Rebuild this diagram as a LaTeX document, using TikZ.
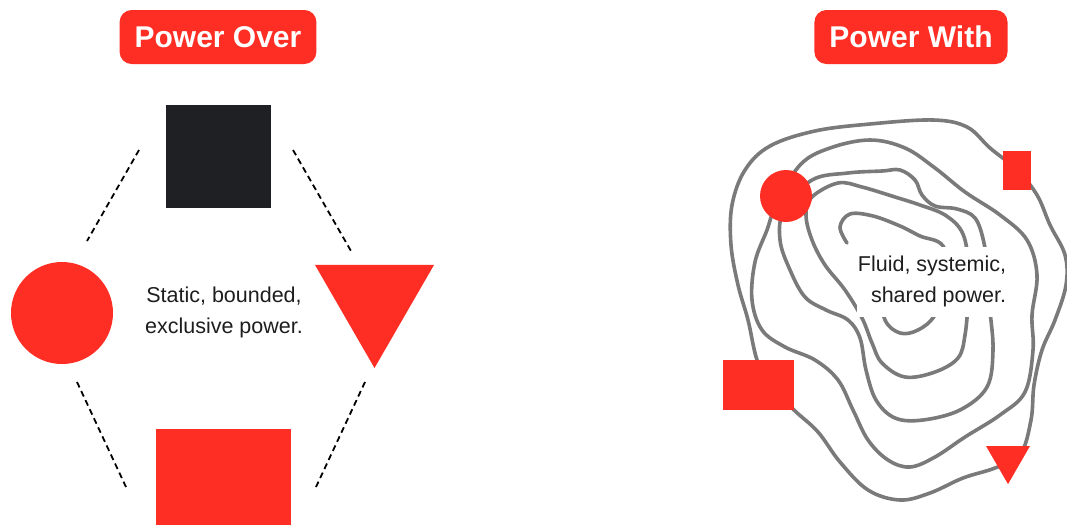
\documentclass[tikz,border=0pt]{standalone}
\usepackage{fontspec}
\setmainfont{Liberation Sans}
\usepackage{tikz}
\usetikzlibrary{shapes.geometric}

\definecolor{powred}{RGB}{255,46,36}
\definecolor{inkblack}{RGB}{31,32,35}
\definecolor{contourgray}{RGB}{122,122,122}
\definecolor{captiontext}{RGB}{30,30,30}

\begin{document}
\begin{tikzpicture}[x=1pt, y=-1pt,
  badge/.style={rectangle, fill=powred, rounded corners=12pt, minimum height=54pt,
                inner xsep=15pt, text=white, font=\fontsize{30}{36}\selectfont\bfseries},
  redbox/.style={rectangle, fill=powred, inner sep=0pt},
  reddot/.style={circle, fill=powred, inner sep=0pt},
  redtri/.style={regular polygon, regular polygon sides=3, shape border rotate=180,
                 fill=powred, inner sep=0pt},
  caption/.style={font=\fontsize{21.5}{31}\selectfont, text=captiontext, inner sep=0pt},
  link/.style={line width=1.8pt, dash pattern=on 6pt off 4pt},
  contour/.style={draw=contourgray, line width=3.6pt, line cap=round}
]
\useasboundingbox[fill=white] (0,0) rectangle (1067,525);

%% ---- POWER OVER (left) ----
\node[badge] at (218,37) (over) {Power Over};

\node[rectangle, fill=inkblack, inner sep=0pt, minimum width=105pt, minimum height=103pt]
      at (218.5,156.5) (top) {};
\node[reddot, minimum size=102pt] at (62,313) (left) {};
\node[redtri, minimum size=137.4pt] at (374.5,299.3) (right) {};
\node[redbox, minimum width=135pt, minimum height=96pt] at (223.5,477) (bottom) {};

\node[caption, align=center] at (224,312.5) (static) {Static, bounded,\\exclusive power.};

\coordinate (tl1) at (139,150);  \coordinate (tl2) at (87,241);
\coordinate (tr1) at (293,150);  \coordinate (tr2) at (351,251);
\coordinate (bl1) at (77,382);   \coordinate (bl2) at (126,487);
\coordinate (br1) at (365,382);  \coordinate (br2) at (316,487);
\draw[link] (tl1) -- (tl2);
\draw[link] (tr1) -- (tr2);
\draw[link] (bl1) -- (bl2);
\draw[link] (br1) -- (br2);

%% ---- POWER WITH (right) ----
\node[badge] at (911,37) (with) {Power With};

% contour lines
\draw[contour] plot[smooth cycle, tension=0.6] coordinates {
  (757,360) (748,320) (738,285) (731,245) (732,205) (745,170) (770,146) (815,131)
  (870,124) (933,120) (967,127) (990,148) (1017,170) (1037,195) (1050,225) (1065,255)
  (1066,285) (1055,320) (1042,350) (1034,385) (1031,420) (1020,455) (995,468) (963,478)
  (930,493) (900,500) (868,490) (840,462) (818,432) (794,410) (770,385)};
\draw[contour] plot[smooth cycle, tension=0.6] coordinates {
  (800,165) (830,148) (870,140) (905,148) (935,168) (965,192) (1000,215) (1027,240)
  (1037,275) (1032,315) (1033,350) (1025,392) (1000,415) (965,437) (935,457) (910,467)
  (888,460) (868,440) (853,410) (838,380) (815,360) (785,347) (762,330) (752,300)
  (755,262) (767,230) (776,205)};
\draw[contour] plot[smooth cycle, tension=0.6] coordinates {
  (812,180) (848,173) (882,171) (900,170) (915,180) (922,195) (935,206) (957,209)
  (975,218) (984,243) (988,275) (990,310) (993,350) (987,387) (960,410) (923,420)
  (895,418) (876,400) (866,370) (860,338) (848,320) (826,310) (805,297) (790,270)
  (780,240) (784,210)};
\draw[contour] plot[smooth cycle, tension=0.6] coordinates {
  (812,197) (838,183) (862,187) (895,197) (920,205) (945,215) (962,232) (968,260)
  (968,300) (965,335) (958,358) (935,372) (905,377) (882,363) (872,343) (862,318)
  (845,290) (825,265) (812,240) (806,215)};
\draw[contour] plot[smooth, tension=0.6] coordinates {
  (847,243) (840,227) (850,214) (873,216) (900,226) (920,236) (943,246) (950,280)
  (935,315) (918,330) (900,333) (885,320) (880,290)};

\node[caption, align=right, fill=white, minimum width=150pt, minimum height=70pt]
      at (932,281.5) (fluid) {Fluid, systemic,\\shared power.};

\node[reddot, minimum size=52pt] at (786,196) (nw) {};
\node[redbox, minimum width=28pt, minimum height=39pt] at (1017,170.5) (ne) {};
\node[redbox, minimum width=71pt, minimum height=50pt] at (758.5,385) (sw) {};
\node[redtri, minimum size=50.8pt] at (1008,458.7) (se) {};
\end{tikzpicture}
\end{document}
